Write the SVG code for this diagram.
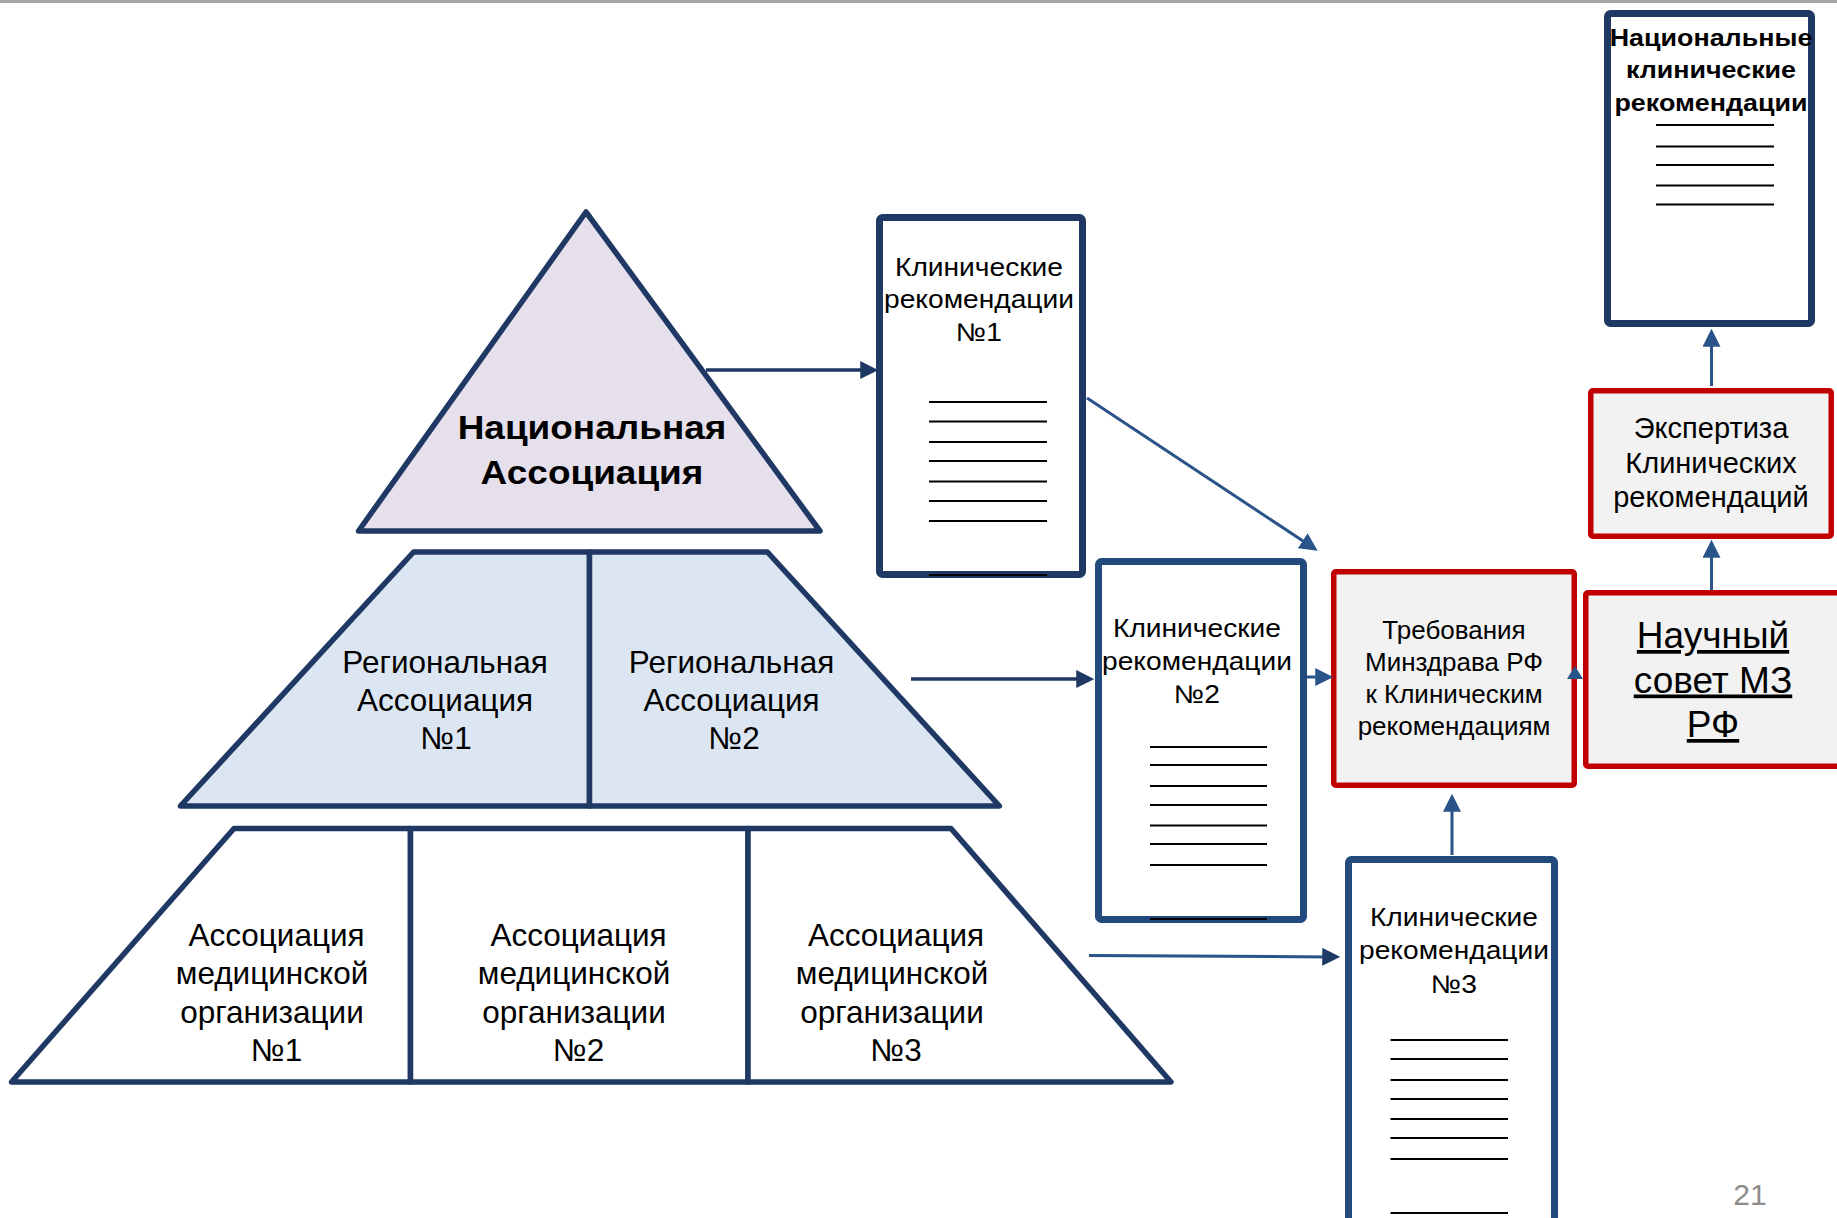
<svg xmlns="http://www.w3.org/2000/svg" width="1837" height="1218" viewBox="0 0 1837 1218">
<style>
text{font-family:"Liberation Sans",Arial,sans-serif;fill:#000;text-anchor:middle}
.pyr{stroke:#1f3864;stroke-width:5.5;stroke-linejoin:round}
.doc{fill:#fff;stroke:#1f3864;stroke-width:7}
.doc2{fill:#fff;stroke:#234a7c;stroke-width:7}
.red{fill:#f2f2f2;stroke:#c00000;stroke-width:5.5}
.rl{stroke:#000;stroke-width:2.2}
.t31{font-size:31.5px}
.t26{font-size:25.5px}
.cd{stroke:#1f3864;stroke-width:3.5;fill:none}
.cm{stroke:#2a5489;stroke-width:3;fill:none}
</style>
<defs>
<marker id="ad" markerUnits="userSpaceOnUse" markerWidth="18" markerHeight="18" viewBox="0 0 16 16" refX="6" refY="8" orient="auto"><path d="M0,0 L16,8 L0,16 z" fill="#1f3864"/></marker>
<marker id="am" markerUnits="userSpaceOnUse" markerWidth="18" markerHeight="18" viewBox="0 0 16 16" refX="6" refY="8" orient="auto"><path d="M0,0 L16,8 L0,16 z" fill="#2a5489"/></marker>
</defs>
<rect x="0" y="0" width="1837" height="3" fill="#a6a6a6"/>

<g id="national-association">
<polygon class="pyr" points="586,212 820,531 358.5,531" fill="#e5e0ec" stroke-linejoin="miter"/>
<g transform="matrix(1.12,0,0,1,-71.04,0)">
<text x="592" y="439" font-size="33" font-weight="bold">Национальная</text>
<text x="592" y="484" font-size="33" font-weight="bold">Ассоциация</text>
</g>
</g>

<g id="regional-1">
<polygon class="pyr" points="413.6,552 589.5,552 589.5,806 180.4,806" fill="#dce6f2"/>
<text class="t31" x="445" y="673">Региональная</text>
<text class="t31" x="445" y="711">Ассоциация</text>
<text class="t31" x="446" y="749">№1</text>
</g>
<g id="regional-2">
<polygon class="pyr" points="589.5,552 767.4,552 999.4,806 589.5,806" fill="#dce6f2"/>
<text class="t31" x="731.5" y="673">Региональная</text>
<text class="t31" x="731.5" y="711">Ассоциация</text>
<text class="t31" x="734" y="749">№2</text>
</g>

<g id="med-org-1">
<polygon class="pyr" points="234,828.5 410.5,828.5 410.5,1082 11.5,1082" fill="#fff"/>
<text class="t31" x="276.5" y="946">Ассоциация</text>
<text class="t31" x="272" y="984.3">медицинской</text>
<text class="t31" x="272" y="1022.5">организации</text>
<text class="t31" x="276.5" y="1060.8">№1</text>
</g>
<g id="med-org-2">
<polygon class="pyr" points="410.5,828.5 748,828.5 748,1082 410.5,1082" fill="#fff"/>
<text class="t31" x="578.5" y="946">Ассоциация</text>
<text class="t31" x="574" y="984.3">медицинской</text>
<text class="t31" x="574" y="1022.5">организации</text>
<text class="t31" x="578.5" y="1060.8">№2</text>
</g>
<g id="med-org-3">
<polygon class="pyr" points="748,828.5 951,828.5 1171,1082 748,1082" fill="#fff"/>
<text class="t31" x="896" y="946">Ассоциация</text>
<text class="t31" x="892" y="984.3">медицинской</text>
<text class="t31" x="892" y="1022.5">организации</text>
<text class="t31" x="896" y="1060.8">№3</text>
</g>

<g id="clin-rec-1">
<rect class="doc" x="879.5" y="217.5" width="203" height="357" rx="3"/>
<g transform="matrix(1.105,0,0,1,-102.8,0)">
<text class="t26" x="979" y="276.5">Клинические</text>
<text class="t26" x="979" y="308.5">рекомендации</text>
<text class="t26" x="979" y="341.5">№1</text>
</g>
<path class="rl" d="M929,402H1047M929,421.5H1047M929,442H1047M929,461H1047M929,481.5H1047M929,501H1047M929,521H1047M929,575H1047"/>
</g>

<g id="clin-rec-2">
<rect class="doc2" x="1098.5" y="561.5" width="205" height="358" rx="3"/>
<g transform="matrix(1.105,0,0,1,-125.7,0)">
<text class="t26" x="1197" y="637">Клинические</text>
<text class="t26" x="1197" y="670">рекомендации</text>
<text class="t26" x="1197" y="703">№2</text>
</g>
<path class="rl" d="M1150,747H1267M1150,765H1267M1150,786H1267M1150,805H1267M1150,825.5H1267M1150,844H1267M1150,865H1267M1150,919H1267"/>
</g>

<g id="clin-rec-3">
<rect class="doc2" x="1348.5" y="859.5" width="206" height="380" rx="3"/>
<g transform="matrix(1.105,0,0,1,-152.7,0)">
<text class="t26" x="1454" y="926">Клинические</text>
<text class="t26" x="1454" y="959">рекомендации</text>
<text class="t26" x="1454" y="993">№3</text>
</g>
<path class="rl" d="M1390.5,1040H1508M1390.5,1059H1508M1390.5,1080H1508M1390.5,1099H1508M1390.5,1119H1508M1390.5,1138H1508M1390.5,1159H1508M1390.5,1213H1508"/>
</g>

<g id="national-guidelines">
<rect class="doc" x="1607.5" y="13.5" width="204" height="310" rx="3"/>
<g transform="matrix(1.12,0,0,1,-205.32,0)">
<text x="1711" y="46.5" font-size="24" font-weight="bold">Национальные</text>
<text x="1711" y="78.5" font-size="24" font-weight="bold">клинические</text>
<text x="1711" y="111" font-size="24" font-weight="bold">рекомендации</text>
</g>
<path class="rl" d="M1656,125H1774M1656,146.5H1774M1656,165H1774M1656,185.5H1774M1656,204.5H1774"/>
</g>

<g id="expertise">
<rect class="red" x="1590.75" y="390.75" width="240.5" height="145.5" rx="2"/>
<text x="1711" y="438" font-size="29">Экспертиза</text>
<text x="1711" y="473" font-size="29">Клинических</text>
<text x="1711" y="507" font-size="29">рекомендаций</text>
</g>

<g id="requirements">
<rect class="red" x="1333.75" y="571.75" width="240.5" height="213.5" rx="2"/>
<text x="1454" y="639" font-size="26">Требования</text>
<text x="1454" y="671" font-size="26">Минздрава РФ</text>
<text x="1454" y="703" font-size="26">к Клиническим</text>
<text x="1454" y="735" font-size="26">рекомендациям</text>
</g>

<g id="scientific-council">
<rect class="red" x="1585.75" y="592.75" width="270" height="173.5" rx="2" fill="#fff"/>
<text x="1713" y="648" font-size="37" text-decoration="underline">Научный</text>
<text x="1713" y="692.5" font-size="37" text-decoration="underline">совет МЗ</text>
<text x="1713" y="737" font-size="37" text-decoration="underline">РФ</text>
</g>

<g id="connectors">
<path class="cd" d="M706,370H867" marker-end="url(#ad)"/>
<path class="cm" d="M1087,398L1308.3,544.5" marker-end="url(#am)"/>
<path class="cd" d="M911,679H1083" marker-end="url(#ad)"/>
<path class="cm" d="M1307,677H1322" marker-end="url(#am)"/>
<path class="cm" d="M1089,955.5L1329,956.9" marker-end="url(#ad)"/>
<path class="cm" d="M1452,855V805" marker-end="url(#am)"/>
<path class="cm" d="M1711.5,590V551" marker-end="url(#am)"/>
<path class="cm" d="M1711.5,386V340" marker-end="url(#am)"/>
<polygon points="1575,666 1583,679 1567,679" fill="#2a5489"/>
</g>

<text x="1750" y="1205" font-size="30" style="fill:#8c8c8c">21</text>
</svg>
